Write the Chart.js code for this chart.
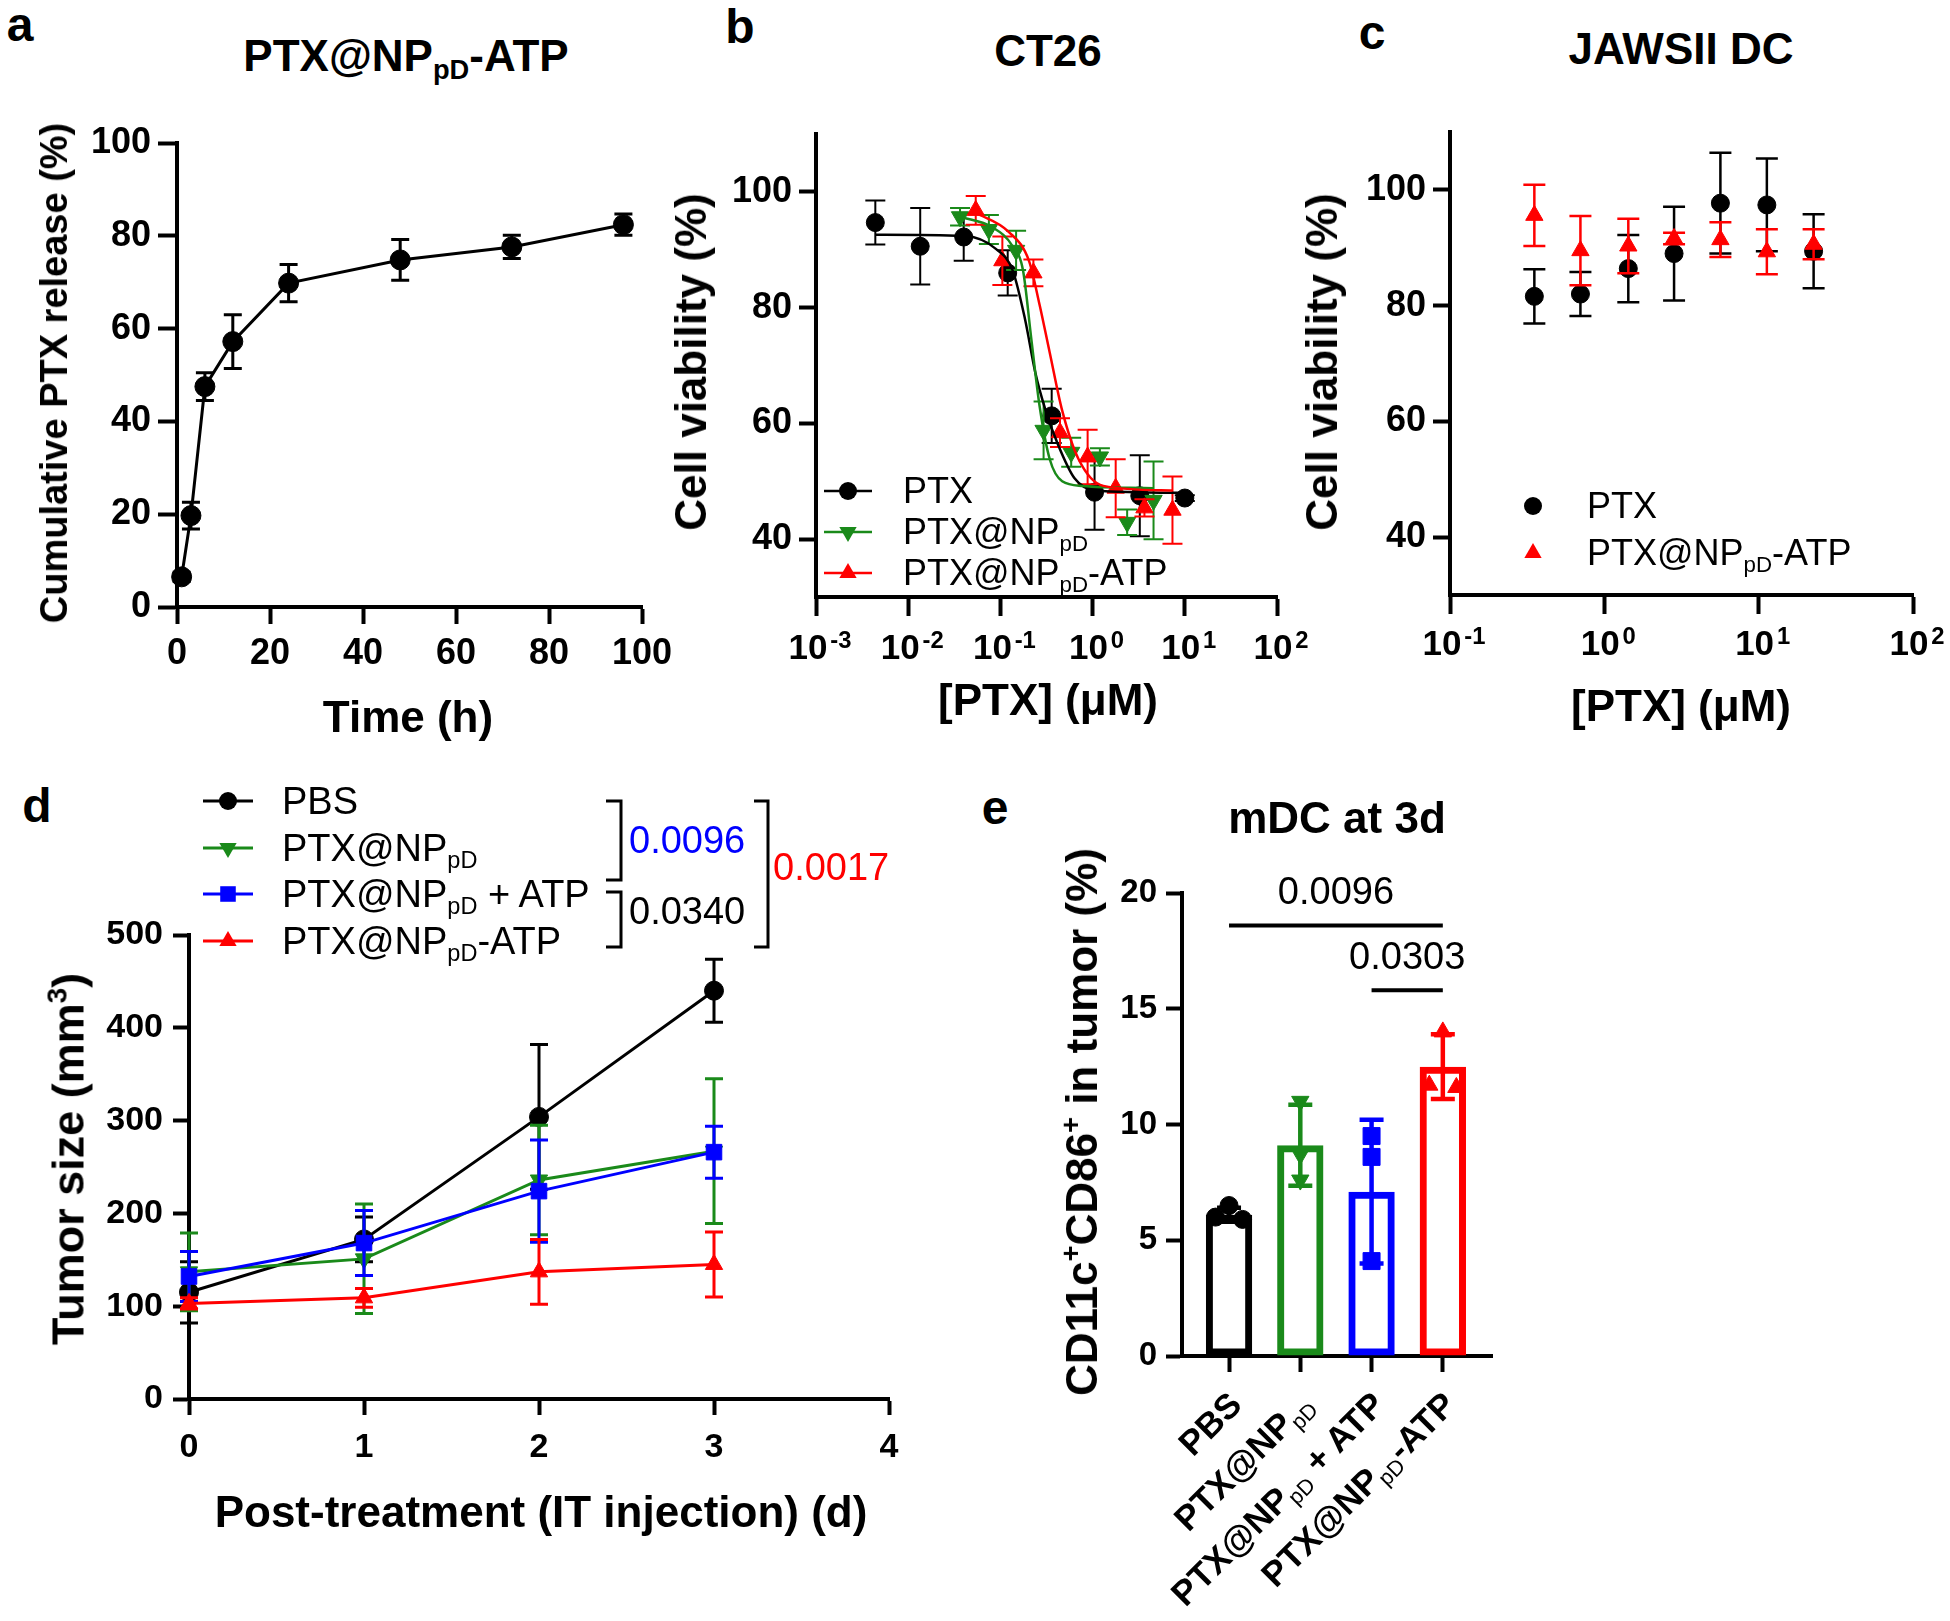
<!DOCTYPE html>
<html lang="en">
<head>
<meta charset="UTF-8">
<title>PTX@NPpD-ATP: release, viability, tumor size, mDC</title>
<script src="https://cdn.jsdelivr.net/npm/chart.js"></script>
<style>
  body { margin: 0; background: #fff; }
  #fig { position: relative; width: 1950px; height: 1621px; overflow: hidden; background: #fff;
         font-family: 'Liberation Sans', Arial, Helvetica, sans-serif; color: #000; }
  #fig canvas { position: absolute; }
  .t { position: absolute; white-space: nowrap; line-height: 1; transform: translate(-50%, -50%); }
  .t sub { font-size: 0.62em; vertical-align: -0.3em; line-height: 0; }
  .t sup { font-size: 0.62em; vertical-align: 0.62em; line-height: 0; }
  .t.pow sup { font-size: 0.68em; vertical-align: 0.45em; margin-left: 0.12em; }
  .lite sub { font-weight: normal; }
</style>
</head>
<body>
<div id="fig"></div>
<script>
// ---------- a: cumulative PTX release ----------
const releaseTime = [1, 3, 6, 12, 24, 48, 72, 96];
const releasePct  = [6.5, 19.7, 47.5, 57.2, 69.8, 74.8, 77.6, 82.4];
const releaseSD   = [1.0, 2.9, 3.0, 5.8, 4.0, 4.4, 2.5, 2.3];
const releaseTicks = [0, 20, 40, 60, 80, 100];

// ---------- b: CT26 viability ----------
const ctPtxConc = [0.0044, 0.0135, 0.04, 0.12, 0.36, 1.05, 3.25, 10];
const ctPtxViab = [94.7, 90.6, 92.2, 86.0, 61.3, 48.1, 47.5, 47.1];
const ctPtxSD   = [3.8, 6.6, 4.1, 3.9, 4.7, 6.5, 7.0, 0.5];
const ctNpConc  = [0.0365, 0.075, 0.148, 0.294, 0.586, 1.2, 2.37, 4.58];
const ctNpViab  = [95.7, 93.5, 89.9, 58.8, 55.0, 54.2, 42.9, 46.7];
const ctNpSD    = [1.5, 2.5, 3.4, 5.0, 2.5, 1.5, 2.2, 6.7];
const ctAtpConc = [0.054, 0.105, 0.228, 0.443, 0.883, 1.78, 3.65, 7.35];
const ctAtpViab = [96.8, 88.1, 86.0, 58.4, 54.2, 48.8, 45.4, 45.0];
const ctAtpSD   = [2.5, 4.2, 2.3, 2.5, 4.7, 5.0, 1.5, 5.8];
// fitted curves
const fitPtxConc = [0.0044, 0.0396, 0.09, 0.136, 0.185, 0.239, 0.31, 0.422, 0.637, 1.06, 10];
const fitPtxViab = [92.6, 92.4, 90.1, 86.4, 78.0, 68.8, 62.2, 56.3, 50.5, 48.4, 48.0];
const fitNpConc  = [0.0365, 0.0815, 0.136, 0.176, 0.216, 0.266, 0.343, 0.468, 0.782, 4.58];
const fitNpViab  = [95.7, 93.9, 90.6, 86.4, 74.7, 63.0, 53.8, 50.0, 49.2, 48.8];
const fitAtpConc = [0.054, 0.123, 0.205, 0.266, 0.343, 0.468, 0.705, 1.31, 7.35];
const fitAtpViab = [96.4, 93.1, 88.0, 80.5, 72.2, 62.2, 53.8, 49.2, 48.4];
const ctXTicks = [0.001, 0.01, 0.1, 1, 10, 100];
const ctXLabels = ['10<sup>-3</sup>', '10<sup>-2</sup>', '10<sup>-1</sup>', '10<sup>0</sup>', '10<sup>1</sup>', '10<sup>2</sup>'];
const viabTicks = [40, 60, 80, 100];

// ---------- c: JAWSII DC viability ----------
const dcConc    = [0.352, 0.70, 1.43, 2.83, 5.65, 11.3, 22.7];
const dcPtxViab = [81.6, 82.0, 86.4, 89.0, 97.7, 97.4, 89.4];
const dcPtxSD   = [4.7, 3.8, 5.8, 8.1, 8.7, 8.0, 6.4];
const dcAtpViab = [95.6, 89.5, 90.3, 91.6, 91.4, 89.3, 90.6];
const dcAtpSD   = [5.3, 6.0, 4.7, 1.0, 3.0, 3.9, 2.6];
const dcXTicks  = [0.1, 1, 10, 100];
const dcXLabels = ['10<sup>-1</sup>', '10<sup>0</sup>', '10<sup>1</sup>', '10<sup>2</sup>'];

// ---------- d: tumor size ----------
const days = [0, 1, 2, 3];
const tumorPBS  = [115, 172, 304, 440];
const tumorPBSsd = [33, 24, 78, 34];
const tumorNp   = [137, 151, 236, 267];
const tumorNpSD = [42, 59, 59, 78];
const tumorNpPlus   = [132, 168, 224, 266];
const tumorNpPlusSD = [27, 35, 55, 28];
const tumorAtp   = [103, 109, 137, 145];
const tumorAtpSD = [6, 10, 35, 35];
const dayTicks = [0, 1, 2, 3, 4];
const sizeTicks = [0, 100, 200, 300, 400, 500];
const tumorP = ['0.0096', '0.0340', '0.0017'];

// ---------- e: mDC at 3d ----------
const groups = ['PBS', 'PTX@NP<sub>pD</sub>', 'PTX@NP<sub>pD</sub> + ATP', 'PTX@NP<sub>pD</sub>-ATP'];
const mdcMean = [6.1, 9.1, 7.1, 12.5];
const mdcSD   = [0.3, 1.75, 3.1, 1.4];
const mdcPBS    = [6.5, 6.0, 5.9];
const mdcNp     = [11.0, 8.7, 7.6];
const mdcNpPlus = [9.5, 8.6, 4.1];
const mdcAtp    = [14.0, 11.7, 11.6];
const mdcTicks = [0, 5, 10, 15, 20];
const mdcSig = [{from: 0, to: 3, at: 18.6, p: '0.0096'}, {from: 2, to: 3, at: 15.8, p: '0.0303'}];

const FONT = "'Liberation Sans', Arial, Helvetica, sans-serif";
const BLACK = '#000000', GREEN = '#1a8a1a', BLUE = '#0000ff', RED = '#ff0000';

Chart.defaults.font.family = FONT;
Chart.defaults.color = '#000';

const fig = document.getElementById('fig');
const pts = (xs, ys) => xs.map((x, i) => ({x, y: ys[i]}));

function drawMarker(ctx, style, x, y, r, rot) {
  ctx.beginPath();
  if (style === 'circle') {
    ctx.arc(x, y, r, 0, Math.PI * 2);
  } else if (style === 'rect') {
    const s = r * Math.SQRT1_2;
    ctx.rect(x - s, y - s, 2 * s, 2 * s);
  } else {
    const k = rot ? -1 : 1;
    ctx.moveTo(x, y - k * r);
    ctx.lineTo(x - r * 0.866, y + k * r * 0.5);
    ctx.lineTo(x + r * 0.866, y + k * r * 0.5);
    ctx.closePath();
  }
  ctx.fill();
}

// error bars: dataset.errors holds +/- values, drawn under that dataset's own marks
const errorBars = {
  id: 'errorBars',
  beforeDatasetDraw(chart, args) {
    const ds = chart.data.datasets[args.index];
    if (!ds.errors) return;
    const ctx = chart.ctx, ys = chart.scales.y;
    ctx.save();
    ctx.lineWidth = ds.errWidth || 2.5;
    args.meta.data.forEach((el, j) => {
      const e = ds.errors[j];
      if (e == null) return;
      const v = ds.data[j].y;
      const top = ys.getPixelForValue(v + e), bot = ys.getPixelForValue(v - e);
      const c = (ds.capW || 20) / 2;
      ctx.strokeStyle = Array.isArray(ds.errColor) ? ds.errColor[j] : ds.errColor;
      ctx.beginPath();
      ctx.moveTo(el.x, top); ctx.lineTo(el.x, bot);
      ctx.moveTo(el.x - c, top); ctx.lineTo(el.x + c, top);
      ctx.moveTo(el.x - c, bot); ctx.lineTo(el.x + c, bot);
      ctx.stroke();
    });
    ctx.restore();
  }
};

// legend symbols, brackets and significance lines (canvas._decor)
const decor = {
  id: 'decor',
  afterDraw(chart) {
    const d = chart.canvas._decor;
    if (!d) return;
    const ctx = chart.ctx, o = d.origin;
    (d.items || []).forEach(it => {
      ctx.save();
      ctx.strokeStyle = ctx.fillStyle = it.color || '#000';
      ctx.lineWidth = it.width || 3;
      if (it.path) {
        ctx.beginPath();
        it.path.forEach(([x, y], k) => k ? ctx.lineTo(x - o.left, y - o.top) : ctx.moveTo(x - o.left, y - o.top));
        ctx.stroke();
      }
      if (it.marker) drawMarker(ctx, it.marker, it.x - o.left, it.y - o.top, it.r, it.rot);
      ctx.restore();
    });
    (d.sig || []).forEach(s => {
      const xs = chart.scales.x, ys = chart.scales.y, y = ys.getPixelForValue(s.at);
      ctx.save();
      ctx.strokeStyle = '#000'; ctx.lineWidth = 4;
      ctx.beginPath();
      ctx.moveTo(xs.getPixelForValue(s.from), y);
      ctx.lineTo(xs.getPixelForValue(s.to), y);
      ctx.stroke();
      ctx.restore();
    });
  }
};
Chart.register(errorBars, decor);

function axis(o) {
  return {
    type: o.type || 'linear', min: o.min, max: o.max, offset: false,
    border: {display: true, color: '#000', width: 4},
    grid: {display: true, drawOnChartArea: false, drawTicks: true, offset: false,
           tickLength: o.tl || 17, tickWidth: 4, tickColor: '#000'},
    ticks: {display: o.show !== false, color: '#000', padding: o.pad ?? 7, autoSkip: false,
            maxRotation: 0, minRotation: 0, font: {family: FONT, size: o.size || 36, weight: 'bold'},
            callback: v => String(v)},
    afterBuildTicks: s => { s.ticks = o.ticks.map(v => ({value: v})); }
  };
}

function makePanel(area, pad, config, decorCfg) {
  const YW = 120, XH = 90;
  const left = area.l - YW - pad.left, top = area.t - pad.top;
  const w = (area.r - area.l) + YW + pad.left + pad.right;
  const h = (area.b - area.t) + XH + pad.top + pad.bottom;
  const cv = document.createElement('canvas');
  cv.width = w; cv.height = h;
  cv.style.left = left + 'px'; cv.style.top = top + 'px';
  cv.style.width = w + 'px'; cv.style.height = h + 'px';
  cv._decor = Object.assign({origin: {left, top}}, decorCfg || {});
  fig.appendChild(cv);
  const op = config.options;
  op.responsive = false;
  op.animation = false;
  op.events = [];
  op.layout = {padding: pad};
  op.plugins = {legend: {display: false}, tooltip: {enabled: false}};
  op.scales.x.afterFit = s => { s.height = XH; };
  op.scales.y.afterFit = s => { s.width = YW; };
  const chart = new Chart(cv, config);
  chart._origin = {left, top};
  return chart;
}

function txt(html, x, y, size, o = {}) {
  const d = document.createElement('div');
  d.className = 't' + (o.cls ? ' ' + o.cls : '');
  d.innerHTML = html;
  d.style.left = x + 'px';
  d.style.top = y + 'px';
  d.style.fontSize = size + 'px';
  d.style.fontWeight = o.bold ? 'bold' : 'normal';
  if (o.color) d.style.color = o.color;
  if (o.align === 'left') d.style.transform = 'translate(0, -50%)';
  if (o.rot === -90) d.style.transform = 'translate(-50%, -50%) rotate(-90deg)';
  if (o.rot === -45) { d.style.transformOrigin = '100% 50%'; d.style.transform = 'translate(-100%, -50%) rotate(-45deg)'; }
  fig.appendChild(d);
  return d;
}

// power-of-ten labels under a log axis, placed from the chart's scale
function powLabels(chart, ticks, labels, dy) {
  const o = chart._origin, xs = chart.scales.x;
  ticks.forEach((v, i) => txt(labels[i], o.left + xs.getPixelForValue(v) + 4, o.top + chart.chartArea.bottom + dy, 35, {bold: true, cls: 'pow'}));
}

function dots(xs, ys, errs, color, style, r, rot, extra) {
  return Object.assign({
    type: 'scatter', data: pts(xs, ys), showLine: false, clip: false,
    pointStyle: style, pointRadius: r, pointRotation: rot || 0,
    pointBackgroundColor: color, pointBorderColor: color, pointBorderWidth: 1,
    errors: errs, errColor: color, errWidth: 2.5, capW: 20
  }, extra || {});
}
function curve(xs, ys, color) {
  return {type: 'scatter', data: pts(xs, ys), showLine: true, pointRadius: 0, borderColor: color,
          borderWidth: 2.5, cubicInterpolationMode: 'monotone', clip: false};
}

// ===== panel a =====
makePanel({l: 177, r: 642, t: 143, b: 607}, {top: 30, right: 40, left: 0, bottom: 0}, {
  type: 'scatter',
  data: {datasets: [dots(releaseTime, releasePct, releaseSD, BLACK, 'circle', 10, 0,
    {showLine: true, borderColor: BLACK, borderWidth: 3, errWidth: 3, capW: 18})]},
  options: {scales: {
    x: axis({min: 0, max: 100, ticks: releaseTicks, pad: 8}),
    y: axis({min: 0, max: 100, ticks: releaseTicks, tl: 19})
  }}
});

// ===== panel b =====
const legB = [491, 532, 573];
const chartB = makePanel({l: 816, r: 1277, t: 134, b: 597}, {top: 30, right: 40, left: 0, bottom: 0}, {
  type: 'scatter',
  data: {datasets: [
    curve(fitAtpConc, fitAtpViab, RED),
    curve(fitNpConc, fitNpViab, GREEN),
    curve(fitPtxConc, fitPtxViab, BLACK),
    dots(ctAtpConc, ctAtpViab, ctAtpSD, RED, 'triangle', 10, 0, {errWidth: 2}),
    dots(ctNpConc, ctNpViab, ctNpSD, GREEN, 'triangle', 10, 180, {errWidth: 2}),
    dots(ctPtxConc, ctPtxViab, ctPtxSD, BLACK, 'circle', 9, 0, {errWidth: 2})
  ]},
  options: {scales: {
    x: axis({type: 'logarithmic', min: 0.001, max: 100, ticks: ctXTicks, show: false, tl: 19}),
    y: axis({min: 30, max: 110, ticks: viabTicks})
  }}
}, {items: [
  {path: [[824, legB[0]], [872, legB[0]]], color: BLACK, width: 2.5, marker: 'circle', x: 848, y: legB[0], r: 9},
  {path: [[824, legB[1]], [872, legB[1]]], color: GREEN, width: 2.5, marker: 'triangle', rot: 180, x: 848, y: legB[1], r: 10},
  {path: [[824, legB[2]], [872, legB[2]]], color: RED, width: 2.5, marker: 'triangle', x: 848, y: legB[2], r: 10}
]});
powLabels(chartB, ctXTicks, ctXLabels, 49);

// ===== panel c =====
const legC = [506, 553];
const chartC = makePanel({l: 1450, r: 1913, t: 132, b: 595}, {top: 30, right: 32, left: 0, bottom: 0}, {
  type: 'scatter',
  data: {datasets: [
    dots(dcConc, dcAtpViab, dcAtpSD, RED, 'triangle', 10, 0, {errWidth: 2.5, capW: 22}),
    dots(dcConc, dcPtxViab, dcPtxSD, BLACK, 'circle', 9, 0, {errWidth: 2.5, capW: 22})
  ]},
  options: {scales: {
    x: axis({type: 'logarithmic', min: 0.1, max: 100, ticks: dcXTicks, show: false, tl: 19}),
    y: axis({min: 30, max: 110, ticks: viabTicks})
  }}
}, {items: [
  {marker: 'circle', color: BLACK, x: 1533, y: legC[0], r: 9},
  {marker: 'triangle', color: RED, x: 1533, y: legC[1], r: 10}
]});
powLabels(chartC, dcXTicks, dcXLabels, 47);

// ===== panel d =====
const legD = [801, 848, 894, 941];
function tumorSet(ys, sd, color, style, r, rot) {
  return dots(days, ys, sd, color, style, r, rot,
    {type: 'line', showLine: true, borderColor: color, borderWidth: 3, errWidth: 3, capW: 18, tension: 0});
}
makePanel({l: 189, r: 889, t: 935, b: 1399}, {top: 180, right: 40, left: 0, bottom: 0}, {
  type: 'line',
  data: {datasets: [
    tumorSet(tumorAtp, tumorAtpSD, RED, 'triangle', 10, 0),
    tumorSet(tumorNpPlus, tumorNpPlusSD, BLUE, 'rect', 11, 0),
    tumorSet(tumorNp, tumorNpSD, GREEN, 'triangle', 10, 180),
    tumorSet(tumorPBS, tumorPBSsd, BLACK, 'circle', 9.5, 0)
  ]},
  options: {scales: {
    x: axis({min: 0, max: 4, ticks: dayTicks, size: 34, pad: 12, tl: 16}),
    y: axis({min: 0, max: 500, ticks: sizeTicks, size: 34, pad: 10, tl: 16})
  }}
}, {items: [
  {path: [[203, legD[0]], [253, legD[0]]], color: BLACK, width: 3, marker: 'circle', x: 228, y: legD[0], r: 9},
  {path: [[203, legD[1]], [253, legD[1]]], color: GREEN, width: 3, marker: 'triangle', rot: 180, x: 228, y: legD[1], r: 10},
  {path: [[203, legD[2]], [253, legD[2]]], color: BLUE, width: 3, marker: 'rect', x: 228, y: legD[2], r: 11},
  {path: [[203, legD[3]], [253, legD[3]]], color: RED, width: 3, marker: 'triangle', x: 228, y: legD[3], r: 10},
  {path: [[606, 801], [621, 801], [621, 880], [606, 880]], width: 3},
  {path: [[606, 892], [621, 892], [621, 947], [606, 947]], width: 3},
  {path: [[754, 801], [768, 801], [768, 947], [754, 947]], width: 3}
]});

// ===== panel e =====
function dodge(vals, spread) {
  // near-equal replicates are set side by side, the rest stay centred
  const off = vals.map(() => 0);
  for (let i = 0; i < vals.length; i++)
    for (let j = i + 1; j < vals.length; j++)
      if (Math.abs(vals[i] - vals[j]) < 0.3) { off[i] = -spread; off[j] = spread; }
  return off;
}
function reps(g, vals, color, style, r, rot) {
  const off = dodge(vals, 0.19);
  return {type: 'scatter', data: vals.map((v, k) => ({x: g + off[k], y: v})), clip: false,
          pointStyle: style, pointRadius: r, pointRotation: rot || 0,
          pointBackgroundColor: color, pointBorderColor: color, pointBorderWidth: 1};
}
const eColors = [BLACK, GREEN, BLUE, RED];
const chartE = makePanel({l: 1182, r: 1492, t: 893, b: 1356}, {top: 80, right: 40, left: 0, bottom: 0}, {
  type: 'bar',
  data: {datasets: [
    {type: 'bar', data: mdcMean.map((v, i) => ({x: i, y: v})), backgroundColor: 'rgba(255,255,255,0)',
     borderColor: eColors, borderWidth: 7, borderSkipped: false, barPercentage: 0.65, categoryPercentage: 1,
     errors: mdcSD, errColor: eColors, errWidth: 4.5, capW: 24},
    reps(0, mdcPBS, BLACK, 'circle', 9),
    reps(1, mdcNp, GREEN, 'triangle', 10, 180),
    reps(2, mdcNpPlus, BLUE, 'rect', 12),
    reps(3, mdcAtp, RED, 'triangle', 10)
  ]},
  options: {scales: {
    x: axis({min: -0.66, max: 3.69, ticks: [0, 1, 2, 3], show: false, tl: 16}),
    y: axis({min: 0, max: 20, ticks: mdcTicks, size: 33, pad: 9, tl: 16})
  }}
}, {sig: mdcSig});

// ---------- text ----------
txt('a', 20, 25, 48, {bold: true});
txt('b', 740, 27, 48, {bold: true});
txt('c', 1372, 33, 48, {bold: true});
txt('d', 37, 806, 48, {bold: true});
txt('e', 995, 808, 48, {bold: true});

txt('PTX@NP<sub>pD</sub>-ATP', 406, 56, 44, {bold: true});
txt('CT26', 1048, 51, 44, {bold: true});
txt('JAWSII DC', 1681, 49, 44, {bold: true});
txt('mDC at 3d', 1337, 818, 44, {bold: true});

txt('Cumulative PTX release (%)', 54, 373, 38, {bold: true, rot: -90});
txt('Time (h)', 408, 717, 44, {bold: true});
txt('Cell viability (%)', 691, 362, 44, {bold: true, rot: -90});
txt('[PTX] (\u03BCM)', 1048, 700, 44, {bold: true});
txt('Cell viability (%)', 1322, 362, 44, {bold: true, rot: -90});
txt('[PTX] (\u03BCM)', 1681, 706, 44, {bold: true});
txt('Tumor size (mm<sup>3</sup>)', 68, 1159, 45, {bold: true, rot: -90});
txt('Post-treatment (IT injection) (d)', 541, 1512, 44, {bold: true});
txt('CD11c<sup>+</sup>CD86<sup>+</sup> in tumor (%)', 1082, 1122, 44, {bold: true, rot: -90});

const legNamesB = ['PTX', 'PTX@NP<sub>pD</sub>', 'PTX@NP<sub>pD</sub>-ATP'];
legNamesB.forEach((s, i) => txt(s, 903, legB[i], 36, {align: 'left'}));
const legNamesC = ['PTX', 'PTX@NP<sub>pD</sub>-ATP'];
legNamesC.forEach((s, i) => txt(s, 1587, legC[i], 36, {align: 'left'}));
const legNamesD = ['PBS', 'PTX@NP<sub>pD</sub>', 'PTX@NP<sub>pD</sub> + ATP', 'PTX@NP<sub>pD</sub>-ATP'];
legNamesD.forEach((s, i) => txt(s, 282, legD[i], 38, {align: 'left'}));

txt(tumorP[0], 629, 840, 38, {align: 'left', color: BLUE});
txt(tumorP[1], 629, 911, 38, {align: 'left'});
txt(tumorP[2], 773, 867, 38, {align: 'left', color: RED});

// panel e labels placed from the chart's own scales
{
  const o = chartE._origin, xs = chartE.scales.x, ys = chartE.scales.y;
  groups.forEach((g, i) => {
    txt(g, o.left + xs.getPixelForValue(i) + 6, o.top + chartE.chartArea.bottom + 42, 35, {bold: true, rot: -45, cls: 'lite'});
  });
  mdcSig.forEach(s => {
    const cx = o.left + (xs.getPixelForValue(s.from) + xs.getPixelForValue(s.to)) / 2;
    txt(s.p, cx, o.top + ys.getPixelForValue(s.at) - 34, 38);
  });
}
</script>
</body>
</html>
